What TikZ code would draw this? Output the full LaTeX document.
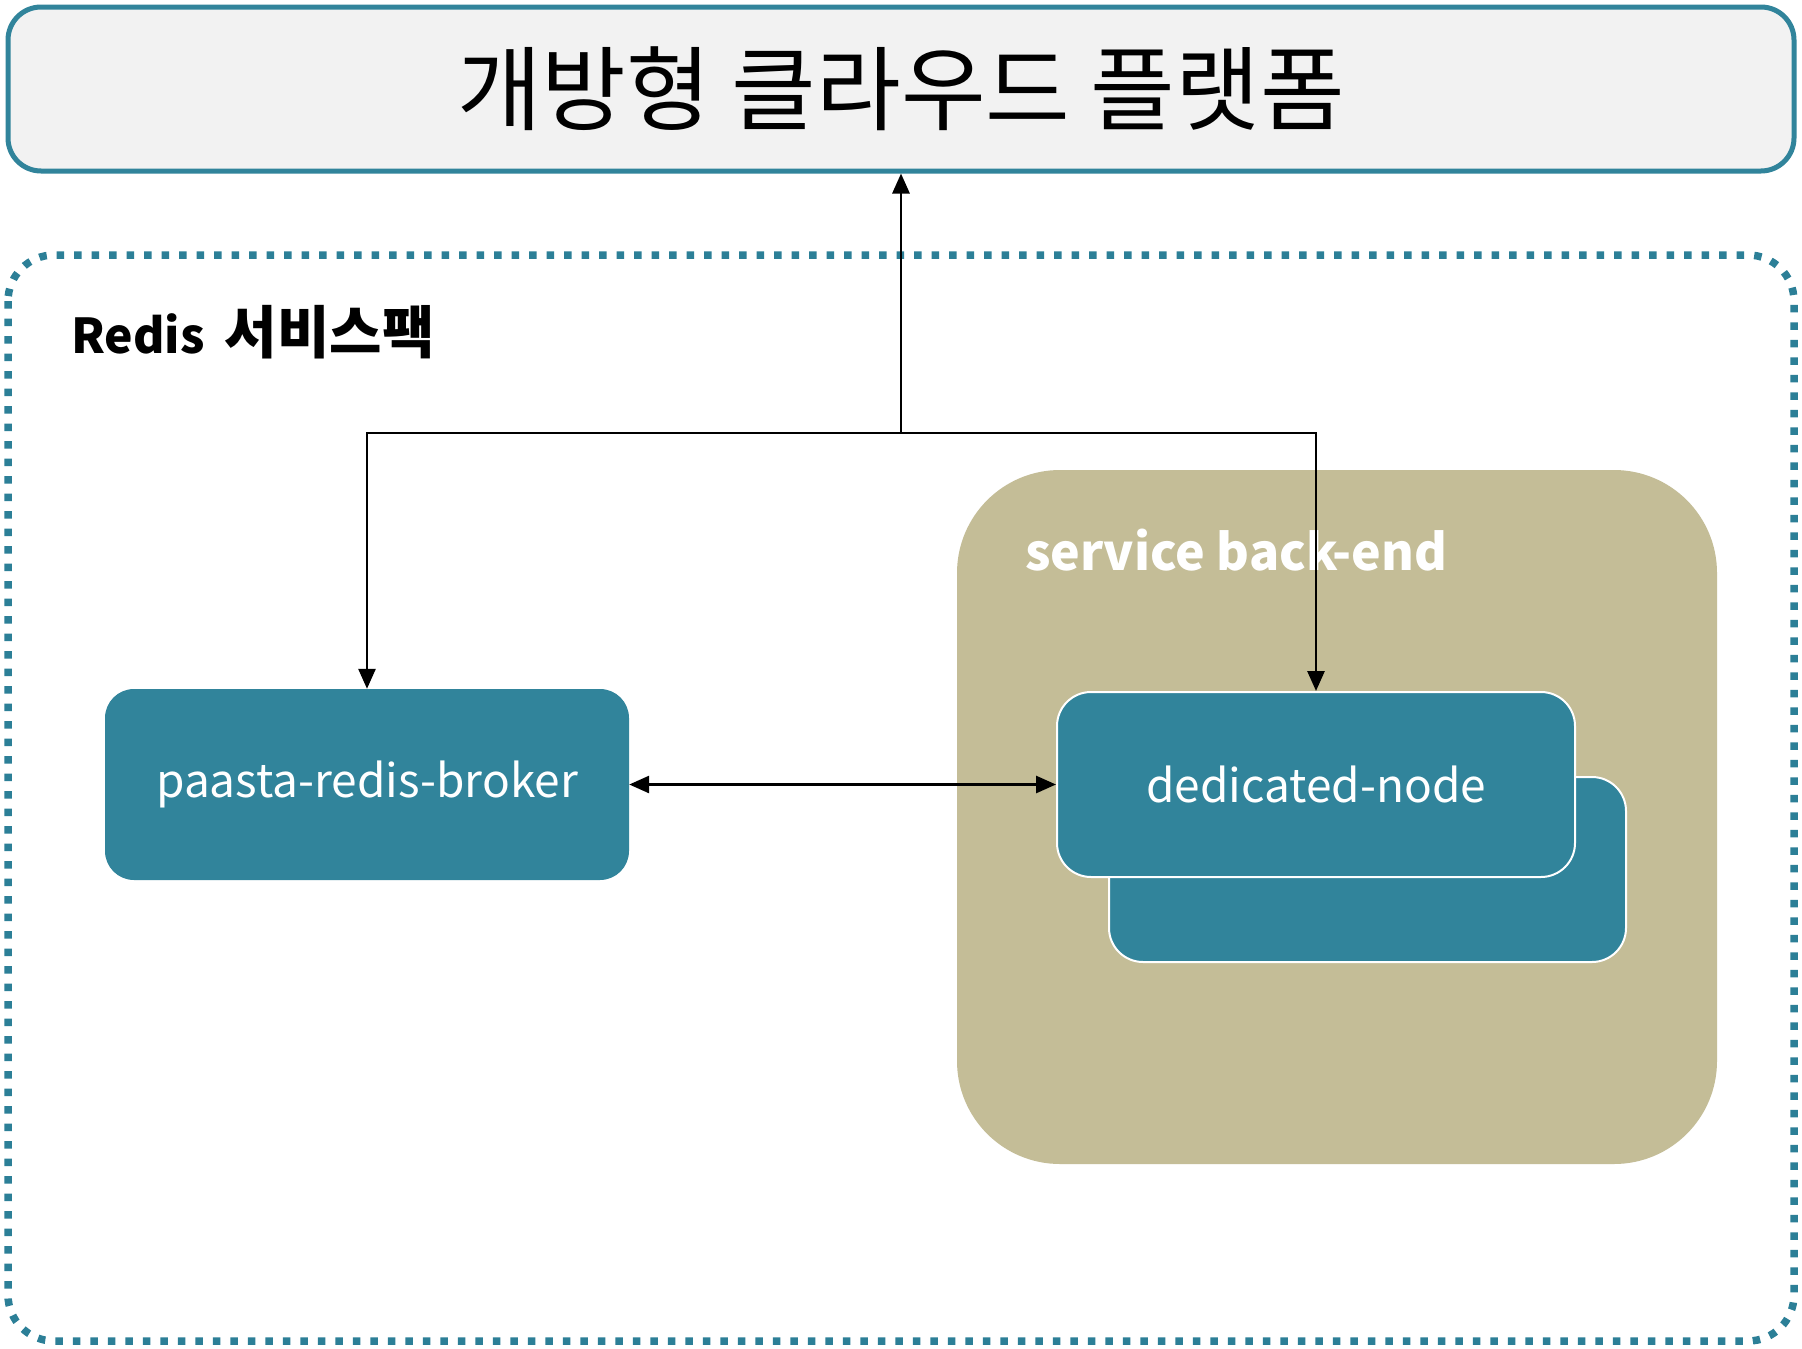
\documentclass[tikz,border=0pt]{standalone}
\usepackage{fontspec}
\newfontfamily\kr{Noto Sans CJK KR}
\usetikzlibrary{arrows.meta}
\definecolor{tealbox}{HTML}{31849B}
\definecolor{tanbox}{HTML}{C4BD97}
\definecolor{lightg}{HTML}{F2F2F2}
\definecolor{framec}{HTML}{2C7F97}
\tikzset{
  tealnode/.style={fill=tealbox, text=white, inner sep=0pt, font=\kr\fontsize{46}{56}\selectfont},
  conn/.style={line width=2.8pt, draw=black, -{Triangle[length=20pt,width=17pt]}},
  dconn/.style={line width=2.8pt, draw=black, {Triangle[length=20pt,width=17pt]}-{Triangle[length=20pt,width=17pt]}}
}
\begin{document}
\begin{tikzpicture}[x=1pt,y=-1pt]
\useasboundingbox (0,0) rectangle (1802,1349);
\fill[white] (0,0) rectangle (1802,1349);

% outer dotted frame
\draw[framec, line width=7.5pt, dash pattern=on 7.5pt off 10pt, rounded corners=46pt]
  (8,255) rectangle (1794,1341);

% title box
\node[draw=tealbox, fill=lightg, line width=5pt, rounded corners=33pt,
      minimum width=1786pt, minimum height=164pt, inner sep=0pt,
      font=\kr\fontsize{92}{100}\selectfont] (title) at (901,89) {개방형 클라우드 플랫폼};

% Redis label
\node[anchor=base west, inner sep=0pt, font=\kr\bfseries\fontsize{48}{56}\selectfont] (redis) at (71,353)
  {Redis\hspace{20pt}{\fontsize{57}{64}\selectfont 서비스팩}};

% service back-end area
\node[fill=tanbox, rounded corners=103pt, minimum width=760pt, minimum height=694pt, inner sep=0pt] (sbe) at (1337,817) {};
\node[anchor=base west, inner sep=0pt, text=white, font=\kr\bfseries\fontsize{50}{60}\selectfont] (sbelabel) at (1025,570) {service back-end};

% broker
\node[tealnode, rounded corners=29pt, minimum width=524pt, minimum height=191pt] (broker) at (367,784.5) {paasta-redis-broker};

% dedicated nodes
\node[tealnode, draw=white, line width=2pt, rounded corners=34pt, minimum width=517pt, minimum height=185pt] (ded2) at (1367.5,869.5) {};
\node[tealnode, draw=white, line width=2pt, rounded corners=34pt, minimum width=518pt, minimum height=185pt] (ded) at (1316,784.5) {dedicated-node};

% connectors
\coordinate (j) at (901,433);
\draw[conn] (j) -- (title.south);
\draw[conn] (j) -| (broker.north);
\draw[conn] (j) -| (ded.north);
\draw[dconn] (broker.east) -- (ded.west);
\end{tikzpicture}
\end{document}
